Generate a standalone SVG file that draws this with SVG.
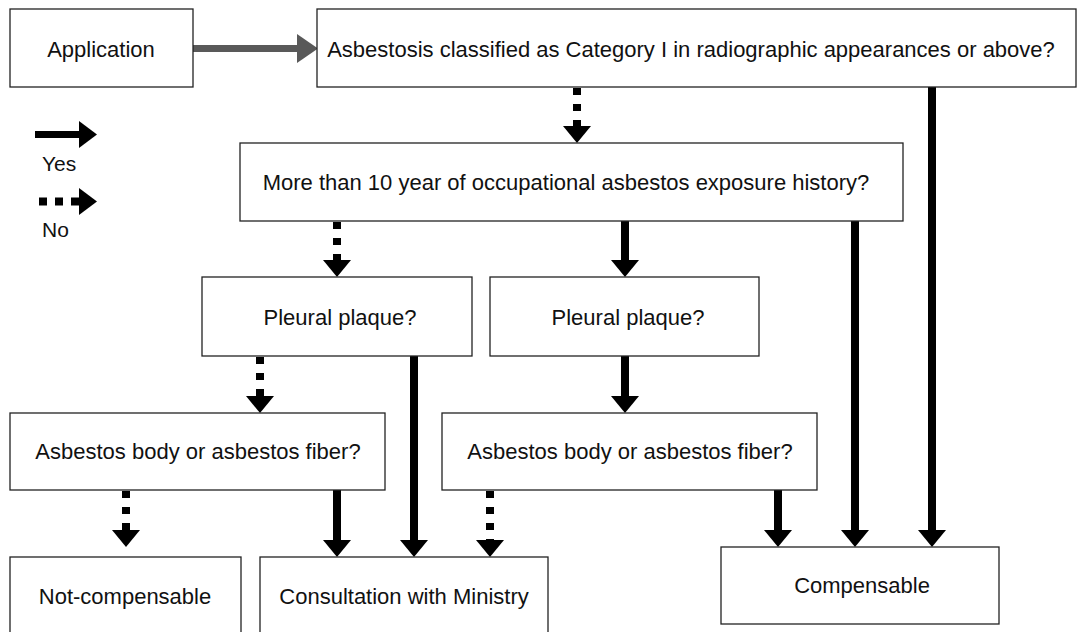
<svg xmlns="http://www.w3.org/2000/svg" width="1078" height="632" viewBox="0 0 1078 632">
<style>
.box{fill:#fff;stroke:#222;stroke-width:1.3}
.t{font-family:"Liberation Sans",Arial,sans-serif;font-size:22px;fill:#111;text-anchor:middle}
.lt{font-family:"Liberation Sans",Arial,sans-serif;font-size:21px;fill:#111}
.yes{stroke:#000;stroke-width:8;fill:none}
.no{stroke:#000;stroke-width:8;fill:none;stroke-dasharray:7 9}
.head{fill:#000}
.gray{stroke:#595959;stroke-width:7;fill:none}
.ghead{fill:#595959}
</style>
<rect width="1078" height="632" fill="#fff"/>
<g id="connectors">
  <!-- Application -> Q1 -->
  <line class="gray" x1="193" y1="48.5" x2="298" y2="48.5"/>
  <polygon class="ghead" points="297,34 318,48.5 297,63"/>
  <!-- Yes arrows -->
  <line class="yes" x1="932" y1="87" x2="932" y2="531"/>
  <polygon class="head" points="918,530 946,530 932,547"/>
  <line class="yes" x1="625" y1="221" x2="625" y2="261"/>
  <polygon class="head" points="611,260 639,260 625,277"/>
  <line class="yes" x1="855" y1="221" x2="855" y2="531"/>
  <polygon class="head" points="841,530 869,530 855,547"/>
  <line class="yes" x1="414" y1="356" x2="414" y2="541"/>
  <polygon class="head" points="400,540 428,540 414,557"/>
  <line class="yes" x1="625" y1="356" x2="625" y2="397"/>
  <polygon class="head" points="611,396 639,396 625,413"/>
  <line class="yes" x1="337" y1="490" x2="337" y2="541"/>
  <polygon class="head" points="323,540 351,540 337,557"/>
  <line class="yes" x1="778" y1="490" x2="778" y2="531"/>
  <polygon class="head" points="764,530 792,530 778,547"/>
  <!-- No arrows -->
  <line class="no" x1="577" y1="88" x2="577" y2="127"/>
  <polygon class="head" points="563,126 591,126 577,143"/>
  <line class="no" x1="337" y1="222" x2="337" y2="261"/>
  <polygon class="head" points="323,260 351,260 337,277"/>
  <line class="no" x1="260" y1="357" x2="260" y2="397"/>
  <polygon class="head" points="246,396 274,396 260,413"/>
  <line class="no" x1="126" y1="491" x2="126" y2="531"/>
  <polygon class="head" points="112,530 140,530 126,547"/>
  <line class="no" x1="490" y1="491" x2="490" y2="541"/>
  <polygon class="head" points="476,540 504,540 490,557"/>
</g>
<g id="legend">
  <line class="yes" x1="35" y1="134.5" x2="80" y2="134.5" style="stroke-width:7"/>
  <polygon class="head" points="79,121 97,134.5 79,148"/>
  <text class="lt" x="42" y="171">Yes</text>
  <line class="no" x1="39" y1="201.5" x2="80" y2="201.5" style="stroke-width:8;stroke-dasharray:8 8"/>
  <polygon class="head" points="79,188 97,201.5 79,215"/>
  <text class="lt" x="42" y="237">No</text>
</g>
<g id="application"><rect class="box" x="10" y="9" width="183" height="78"/><text class="t" x="101" y="57">Application</text></g>
<g id="q-category"><rect class="box" x="317" y="9" width="759" height="78"/><text class="t" x="691" y="57">Asbestosis classified as Category I in radiographic appearances or above?</text></g>
<g id="q-exposure"><rect class="box" x="240" y="143" width="663" height="78"/><text class="t" x="566" y="190">More than 10 year of occupational asbestos exposure history?</text></g>
<g id="pleural-left"><rect class="box" x="202" y="277" width="270" height="79"/><text class="t" x="340" y="325">Pleural plaque?</text></g>
<g id="pleural-right"><rect class="box" x="490" y="277" width="269" height="79"/><text class="t" x="628" y="325">Pleural plaque?</text></g>
<g id="fiber-left"><rect class="box" x="10" y="413" width="375" height="77"/><text class="t" x="198" y="459">Asbestos body or asbestos fiber?</text></g>
<g id="fiber-right"><rect class="box" x="442" y="413" width="375" height="77"/><text class="t" x="630" y="459">Asbestos body or asbestos fiber?</text></g>
<g id="not-compensable"><rect class="box" x="10" y="557" width="231" height="90"/><text class="t" x="125" y="604">Not-compensable</text></g>
<g id="consultation"><rect class="box" x="260" y="557" width="288" height="90"/><text class="t" x="404" y="604">Consultation with Ministry</text></g>
<g id="compensable"><rect class="box" x="721" y="547" width="278" height="77"/><text class="t" x="862" y="593">Compensable</text></g>
</svg>
